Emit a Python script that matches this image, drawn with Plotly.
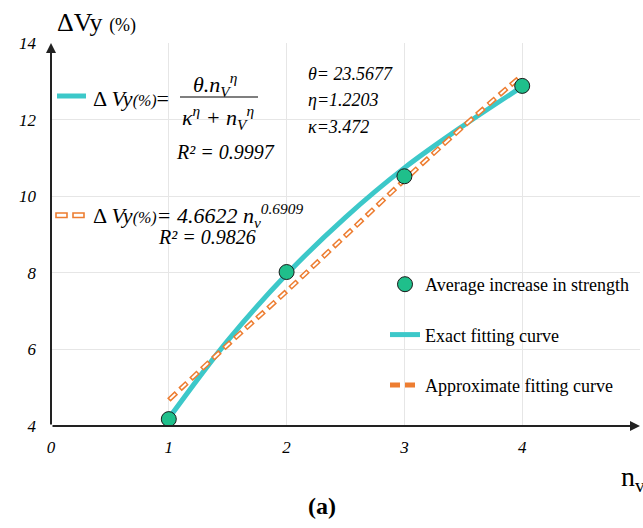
import plotly.graph_objects as go

# ---- data ----
n_points = [1, 2, 3, 4]
dvy_points = [4.18, 8.02, 10.52, 12.88]

n_curve = [1, 1.5, 2, 2.5, 3, 3.5, 4]
exact_curve = [4.20, 6.23, 7.96, 9.45, 10.74, 11.84, 12.86]
approx_curve = [4.68, 6.12, 7.52, 8.97, 10.42, 11.82, 13.16]

x_ticks = [0, 1, 2, 3, 4, 5]
x_tick_labels = ["0", "1", "2", "3", "4", "5"]
y_ticks = [4, 6, 8, 10, 12, 14]
y_tick_labels = ["4", "6", "8", "10", "12", "14"]

CYAN = "#3CC8C9"
ORANGE = "#ED7D31"
GREEN = "#1FBF8B"
FONT = "Liberation Serif"

W, H = 643, 528
L, R, T, B = 51, 3, 43, 102
PW, PH = W - L - R, H - T - B


def P(px, py):
    return (px - L) / PW, (H - B - py) / PH


fig = go.Figure()

fig.add_trace(go.Scatter(
    x=n_curve, y=exact_curve, mode="lines", name="Exact fitting curve",
    legendgroup="b", legendrank=2,
    line=dict(color=CYAN, width=5, shape="spline")))
fig.add_trace(go.Scatter(
    x=n_curve, y=approx_curve, mode="lines", name="Approximate fitting curve",
    legendgroup="c", legendrank=3,
    line=dict(color=ORANGE, width=5, shape="spline", dash="10px,5px")))
fig.add_trace(go.Scatter(
    x=n_curve, y=approx_curve, mode="lines", showlegend=False, hoverinfo="skip",
    legendgroup="c",
    line=dict(color="white", width=2, shape="spline", dash="0px,1.5px,7px,6.5px")))
fig.add_trace(go.Scatter(
    x=n_points, y=dvy_points, mode="markers", name="Average increase in strength",
    legendgroup="a", legendrank=1,
    marker=dict(color=GREEN, size=15, line=dict(color="#1a1a1a", width=1))))

ann = []


def text(t, px, py, size, xanchor="left"):
    x, y = P(px, py)
    ann.append(dict(text=t, x=x, y=y, xref="paper", yref="paper", showarrow=False,
                    xanchor=xanchor, yanchor="middle",
                    font=dict(family=FONT, size=size, color="black")))


# axis arrows
ann.append(dict(x=5, y=4, ax=0, ay=4, xref="x", yref="y", axref="x", ayref="y", text="",
                showarrow=True, arrowhead=2, arrowsize=1, arrowwidth=2, arrowcolor="#222"))
ann.append(dict(x=0, y=14, ax=0, ay=4, xref="x", yref="y", axref="x", ayref="y", text="",
                showarrow=True, arrowhead=2, arrowsize=1, arrowwidth=2, arrowcolor="#222"))

# axis titles
text("ΔVy <span style='font-size:18px'>(%)</span>", 55, 22, 26)
text("n<sub>v</sub>", 619, 478, 28)
text("<b>(a)</b>", 322, 506, 24, xanchor="center")

# exact formula
text("Δ <i>Vy</i><i><span style='font-size:16px'>(%)</span></i>=", 91, 99, 22)
text("<i>θ.n<sub>V</sub><sup>η</sup></i>", 215, 84, 22, xanchor="center")
text("<i>κ<sup>η</sup> + n<sub>V</sub><sup>η</sup></i>", 218, 118, 22, xanchor="center")
text("<i>R² = 0.9997</i>", 174, 152, 20)
text("<i>θ= 23.5677</i>", 306, 74, 18)
text("<i>η=1.2203</i>", 306, 100, 18)
text("<i>κ=3.472</i>", 306, 127, 18)

# approximate formula
text("Δ <i>Vy<span style='font-size:16px'>(%)</span>= 4.6622 n<sub>v</sub><sup>0.6909</sup></i>",
     91, 215, 22)
text("<i>R² = 0.9826</i>", 156, 237, 20)

shapes = []
x0, y0 = P(180, 97)
x1, _ = P(258, 97)
shapes.append(dict(type="line", xref="paper", yref="paper", x0=x0, x1=x1, y0=y0, y1=y0,
                   line=dict(color="black", width=1.2)))
x0, y0 = P(57, 96)
x1, _ = P(86, 96)
shapes.append(dict(type="line", xref="paper", yref="paper", x0=x0, x1=x1, y0=y0, y1=y0,
                   line=dict(color=CYAN, width=5)))
for a, b in [(56, 67), (73, 84)]:
    xa, ya = P(a, 213)
    xb, yb = P(b, 217.5)
    shapes.append(dict(type="rect", xref="paper", yref="paper", x0=xa, x1=xb, y0=ya, y1=yb,
                       line=dict(color=ORANGE, width=1.6), fillcolor="white"))

lx, ly = P(385, 266)

fig.update_layout(
    width=W, height=H, margin=dict(l=L, r=R, t=T, b=B),
    plot_bgcolor="white", paper_bgcolor="white",
    font=dict(family=FONT, color="black"),
    annotations=ann, shapes=shapes,
    legend=dict(x=lx, y=ly, xanchor="left", yanchor="top", bgcolor="rgba(0,0,0,0)",
                font=dict(family=FONT, size=18, color="black"), tracegroupgap=24,
                traceorder="grouped", itemwidth=30),
    xaxis=dict(range=[0, 5], tickvals=x_ticks,
               ticktext=[f"<i>{t}</i>" for t in x_tick_labels],
               showgrid=True, gridcolor="#e6e6e6",
               gridwidth=1, zeroline=False, showline=False, ticks="",
               ticklabelstandoff=9,
               tickfont=dict(family=FONT, size=17, color="black")),
    yaxis=dict(range=[4, 14], tickvals=y_ticks,
               ticktext=[f"<i>{t}</i>" for t in y_tick_labels],
               showgrid=True, gridcolor="#e6e6e6",
               gridwidth=1, zeroline=False, showline=False, ticks="",
               ticklabelstandoff=14,
               tickfont=dict(family=FONT, size=17, color="black")),
)

fig.write_html("out.html")
